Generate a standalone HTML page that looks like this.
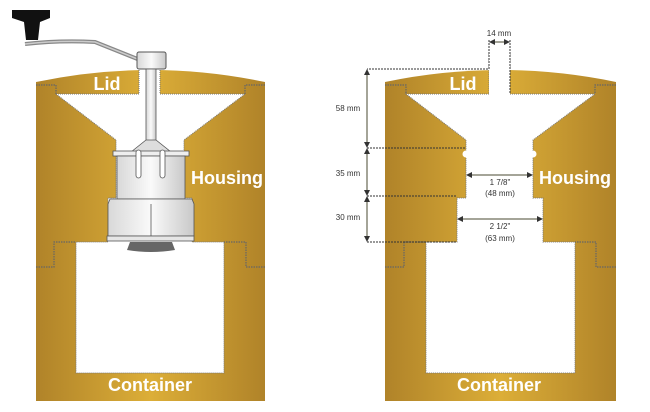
<!DOCTYPE html>
<html><head><meta charset="utf-8"><style>
html,body{margin:0;padding:0;background:#fff;}
svg{display:block;}
text{font-family:"Liberation Sans",sans-serif;}
.lbl{font-weight:bold;fill:#fff;font-size:18px;}
.dim{font-size:8px;fill:#333;}
</style></head><body>
<svg width="650" height="412" viewBox="0 0 650 412" xmlns="http://www.w3.org/2000/svg">
<defs>
<linearGradient id="g" x1="0" x2="1" y1="0" y2="0">
<stop offset="0" stop-color="#b08329"/><stop offset="0.5" stop-color="#dcae38"/><stop offset="1" stop-color="#b08329"/>
</linearGradient>
<linearGradient id="m" x1="0" x2="1"><stop offset="0" stop-color="#d8d8d8"/><stop offset="0.5" stop-color="#fafafa"/><stop offset="1" stop-color="#c8c8c8"/></linearGradient>
<marker id="a" markerWidth="6" markerHeight="6" refX="5" refY="3" orient="auto"><path d="M0,0 L6,3 L0,6z" fill="#333"/></marker>
<marker id="b" markerWidth="6" markerHeight="6" refX="1" refY="3" orient="auto"><path d="M6,0 L0,3 L6,6z" fill="#333"/></marker>
</defs>

<g transform="translate(150,0)">
<path d="M-114,82 Q0,58 115,82 L115,401 L-114,401Z" fill="url(#g)"/>
<path d="M-94,94 L-11,94 L-11,60 L10,60 L10,94 L95,94 L34,140 L34,198 L42,198 L42,242 L74,242 L74,373 L-74,373 L-74,242 L-42,242 L-42,198 L-34,198 L-34,140Z" fill="#fff" stroke="#777" stroke-width="1" stroke-dasharray="1 1"/>
<g fill="none" stroke="#666" stroke-width="1.2" stroke-dasharray="1.5 1">
<path d="M-114,85 L-94,85 L-94,94 M115,85 L95,85 L95,94"/>
<path d="M-114,267 L-96,267 L-96,242 L-74,242 M115,267 L96,267 L96,242 L74,242"/>
</g>
</g>

<path d="M25,44 Q60,40 95,42 Q120,52 140,60" stroke="#888" stroke-width="4" fill="none"/>
<path d="M25,44 Q60,40 95,42 Q120,52 140,60" stroke="#ccc" stroke-width="1.5" fill="none"/>
<path d="M12,10 L50,10 L50,18 L40,22 L38,40 L26,40 L24,22 L12,18Z" fill="#111"/>
<rect x="137" y="52" width="29" height="17" rx="2" fill="url(#m)" stroke="#555"/>
<rect x="146" y="69" width="10" height="76" fill="url(#m)" stroke="#555" stroke-width="0.8"/>
<path d="M131,152 L146,140 L156,140 L171,152Z" fill="#ddd" stroke="#555" stroke-width="0.8"/>
<rect x="113" y="151" width="76" height="5" fill="#eee" stroke="#555" stroke-width="0.8"/>
<rect x="117" y="156" width="68" height="43" fill="url(#m)" stroke="#555" stroke-width="0.8"/>
<rect x="136" y="150" width="5" height="28" rx="2.5" fill="#fff" stroke="#555" stroke-width="0.8"/>
<rect x="160" y="150" width="5" height="28" rx="2.5" fill="#fff" stroke="#555" stroke-width="0.8"/>
<path d="M110,199 L192,199 L194,204 L194,236 L108,236 L108,204Z" fill="url(#m)" stroke="#555" stroke-width="0.8"/>
<line x1="151" y1="204" x2="151" y2="236" stroke="#555" stroke-width="0.8"/>
<rect x="107" y="236" width="87" height="5" fill="#e6e6e6" stroke="#555" stroke-width="0.8"/>
<path d="M127,250 L130,242 L172,242 L175,250 Q151,254 127,250Z" fill="#666"/>

<text class="lbl" x="107" y="90" text-anchor="middle">Lid</text>
<text class="lbl" x="227" y="184" text-anchor="middle">Housing</text>
<text class="lbl" x="150" y="391" text-anchor="middle">Container</text>

<g transform="translate(500,0)">
<path d="M-115,82 Q0,58 116,82 L116,401 L-115,401Z" fill="url(#g)"/>
<path d="M-94,94 L-11,94 L-11,50 L10,50 L10,94 L95,94 L33,140 L33,198 L43,198 L43,242 L75,242 L75,373 L-74,373 L-74,242 L-43,242 L-43,198 L-34,198 L-34,140Z" fill="#fff" stroke="#777" stroke-width="1" stroke-dasharray="1 1"/>
<rect x="-11" y="40" width="21" height="56" fill="#fff"/>
<circle cx="-34" cy="154" r="3.5" fill="#fff"/><circle cx="33" cy="154" r="3.5" fill="#fff"/>
<g fill="none" stroke="#666" stroke-width="1.2" stroke-dasharray="1.5 1">
<path d="M-115,85 L-94,85 L-94,94 M116,85 L95,85 L95,94"/>
<path d="M-115,267 L-96,267 L-96,242 L-74,242 M116,267 L96,267 L96,242 L75,242"/>
</g>
</g>
<text class="lbl" x="463" y="90" text-anchor="middle">Lid</text>
<text class="lbl" x="575" y="184" text-anchor="middle">Housing</text>
<text class="lbl" x="499" y="391" text-anchor="middle">Container</text>

<g stroke="#333" stroke-width="1" fill="none" stroke-dasharray="2 1">
<path d="M489,40 L489,69 L367,69 M510,40 L510,94"/>
<path d="M367,148 L466,148 M367,196 L457,196 M367,242 L457,242"/>
</g>
<g stroke="#4a4a30" stroke-width="1" fill="none">
<line x1="490" y1="42" x2="509" y2="42" marker-start="url(#b)" marker-end="url(#a)"/>
<line x1="367" y1="70" x2="367" y2="147" marker-start="url(#b)" marker-end="url(#a)"/>
<line x1="367" y1="149" x2="367" y2="195" marker-start="url(#b)" marker-end="url(#a)"/>
<line x1="367" y1="197" x2="367" y2="241" marker-start="url(#b)" marker-end="url(#a)"/>
<line x1="467" y1="175" x2="532" y2="175" marker-start="url(#b)" marker-end="url(#a)"/>
<line x1="458" y1="219" x2="542" y2="219" marker-start="url(#b)" marker-end="url(#a)"/>
</g>
<text class="dim" x="499" y="36" text-anchor="middle">14 mm</text>
<text class="dim" x="348" y="111" text-anchor="middle">58 mm</text>
<text class="dim" x="348" y="176" text-anchor="middle">35 mm</text>
<text class="dim" x="348" y="220" text-anchor="middle">30 mm</text>
<text class="dim" x="500" y="185" text-anchor="middle">1 7/8"</text>
<text class="dim" x="500" y="196" text-anchor="middle">(48 mm)</text>
<text class="dim" x="500" y="229" text-anchor="middle">2 1/2"</text>
<text class="dim" x="500" y="241" text-anchor="middle">(63 mm)</text>
</svg>
</body></html>
